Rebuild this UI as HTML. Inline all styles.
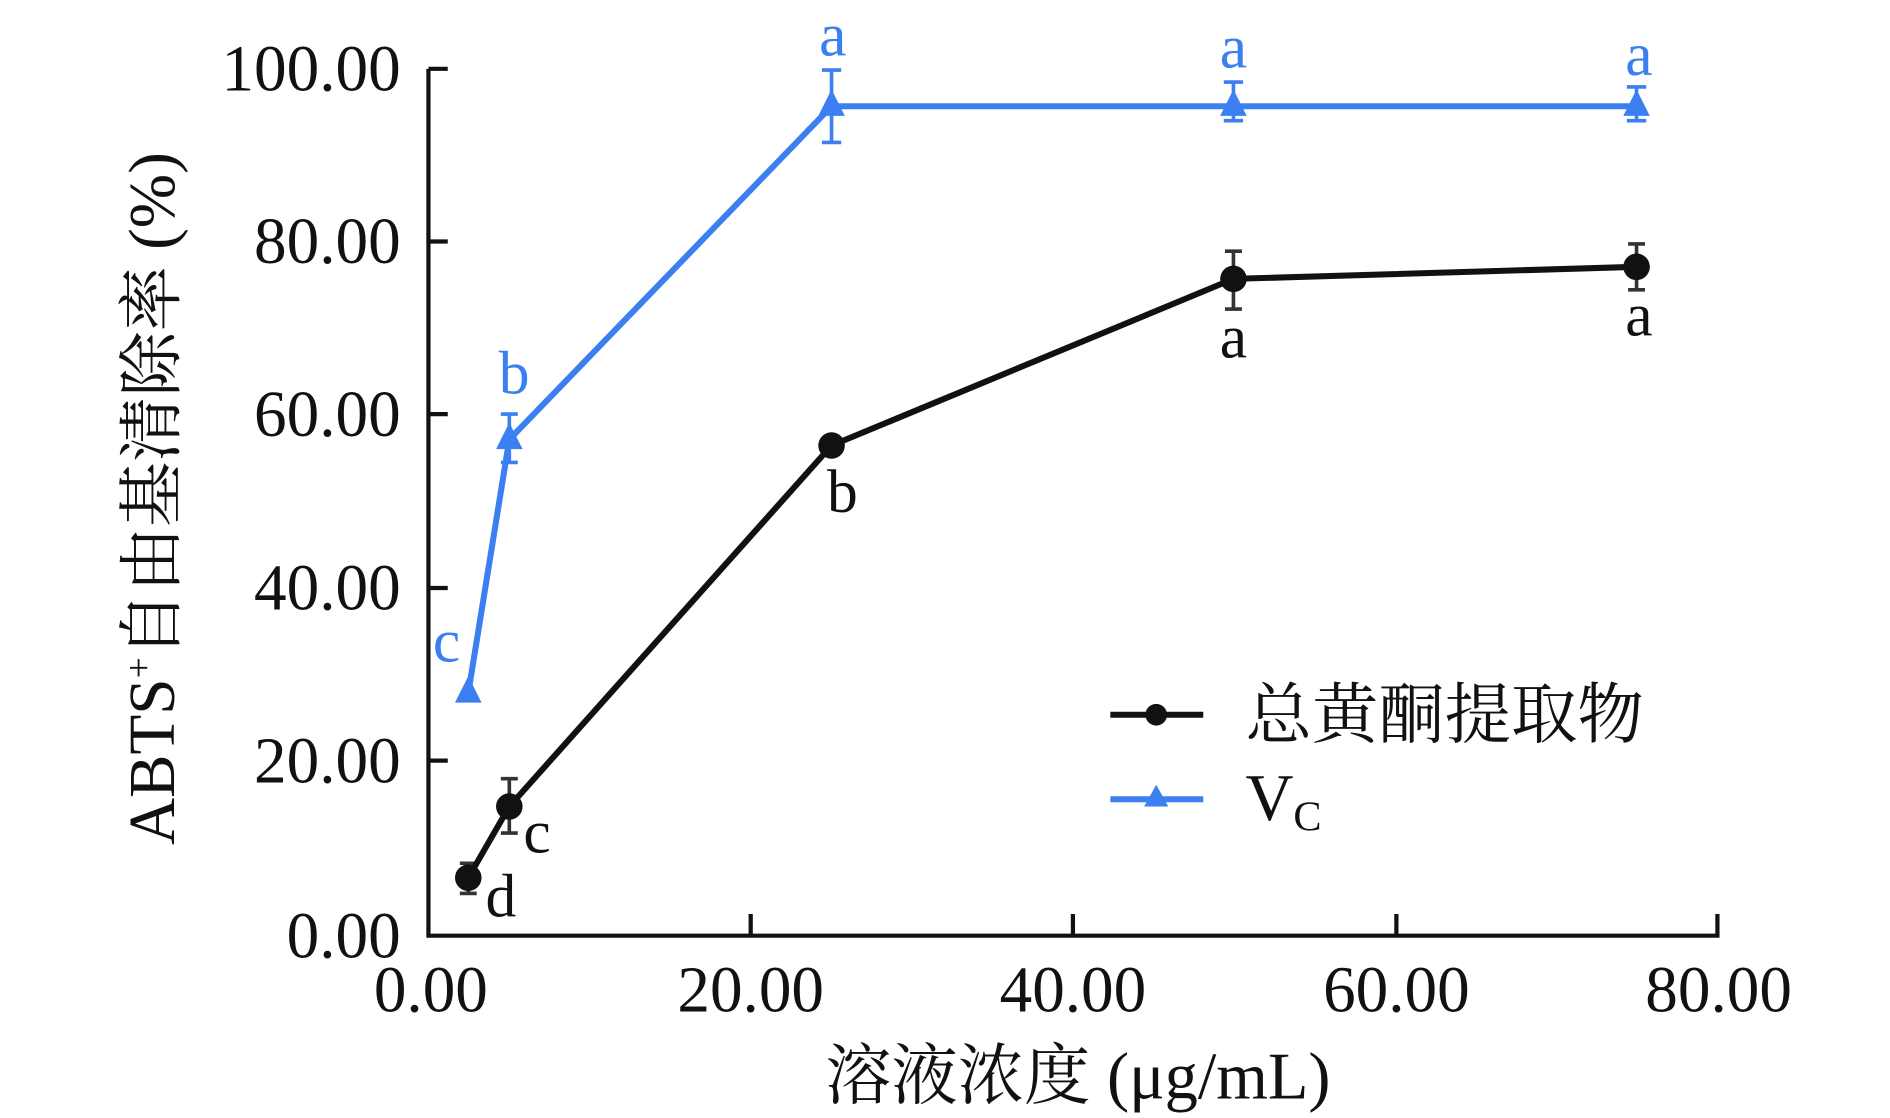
<!DOCTYPE html>
<html><head><meta charset="utf-8"><style>
html,body{margin:0;padding:0;background:#fff}
svg{display:block}
text{font-family:"Liberation Serif","Noto Serif CJK SC",serif}
</style></head><body>
<svg width="1890" height="1118" viewBox="0 0 1566 926" preserveAspectRatio="none" xmlns="http://www.w3.org/2000/svg">
<rect width="1566" height="926" fill="#fff"/>
<g stroke="#111" stroke-width="3.5" fill="none">
<path d="M355 57 V775 H1423 V757"/>
<path d="M355 57 H371 M355 200 H371 M355 343 H371 M355 487 H371 M355 630 H371"/>
<path d="M622 775 V757 M889 775 V757 M1157 775 V757"/>
</g>
<g font-size="54" text-anchor="end" fill="#111">
<text x="332" y="75">100.00</text>
<text x="332" y="218">80.00</text>
<text x="332" y="361">60.00</text>
<text x="332" y="505">40.00</text>
<text x="332" y="648">20.00</text>
<text x="332" y="793">0.00</text>
</g>
<g font-size="54" text-anchor="middle" fill="#111">
<text x="357" y="838">0.00</text>
<text x="622" y="838">20.00</text>
<text x="889" y="838">40.00</text>
<text x="1157" y="838">60.00</text>
<text x="1424" y="838">80.00</text>
<text x="893" y="910" font-size="55">溶液浓度 (μg/mL)</text>
</g>
<text transform="translate(144,413) rotate(-90)" font-size="54" text-anchor="middle" fill="#111">ABTS<tspan font-size="31" dy="-19">+</tspan><tspan dy="19">自由基清除率 (%)</tspan></text>
<g stroke="#333" stroke-width="3">
<path d="M388 715V740M381 715H395M381 740H395"/>
<path d="M422 645V690M415 645H429M415 690H429"/>
<path d="M1022 208V256M1015 208H1029M1015 256H1029"/>
<path d="M1356 202V240M1349 202H1363M1349 240H1363"/>
</g>
<polyline points="388,727 422,668 689,369 1022,231 1356,221" fill="none" stroke="#111" stroke-width="5"/>
<g fill="#111">
<circle cx="388" cy="727" r="11"/><circle cx="422" cy="668" r="11"/><circle cx="689" cy="369" r="11"/><circle cx="1022" cy="231" r="11"/><circle cx="1356" cy="221" r="11"/>
</g>
<g stroke="#3b7ff0" stroke-width="3">
<path d="M422 343V383M415 343H429M415 383H429"/>
<path d="M689 58V118M681 58H697M681 118H697"/>
<path d="M1022 68V100M1014 68H1030M1014 100H1030"/>
<path d="M1356 72V100M1348 72H1364M1348 100H1364"/>
</g>
<polyline points="388,574 422,364 689,88 1022,88 1356,88" fill="none" stroke="#3b7ff0" stroke-width="5"/>
<g fill="#3b7ff0">
<path d="M388 560L399 582H377Z"/><path d="M422 350L433 372H411Z"/><path d="M689 74L700 96H678Z"/><path d="M1022 74L1033 96H1011Z"/><path d="M1356 74L1367 96H1345Z"/>
</g>
<g font-size="51" text-anchor="middle" fill="#3b7ff0">
<text x="690" y="46">a</text><text x="1022" y="56">a</text><text x="1358" y="62">a</text>
<text x="426" y="326">b</text><text x="370" y="548">c</text>
</g>
<g font-size="51" text-anchor="middle" fill="#111">
<text x="698" y="424">b</text><text x="1022" y="296">a</text><text x="1358" y="278">a</text>
<text x="445" y="706">c</text><text x="415" y="759">d</text>
</g>
<line x1="920" y1="592" x2="997" y2="592" stroke="#111" stroke-width="5"/>
<circle cx="958" cy="592" r="9" fill="#111"/>
<line x1="920" y1="662" x2="997" y2="662" stroke="#3b7ff0" stroke-width="5"/>
<path d="M958 650L968 668H948Z" fill="#3b7ff0"/>
<text x="1032" y="611" font-size="55" fill="#111">总黄酮提取物</text>
<text x="1032" y="679" font-size="55" fill="#111">V<tspan font-size="35" dy="9">C</tspan></text>
</svg>
</body></html>
